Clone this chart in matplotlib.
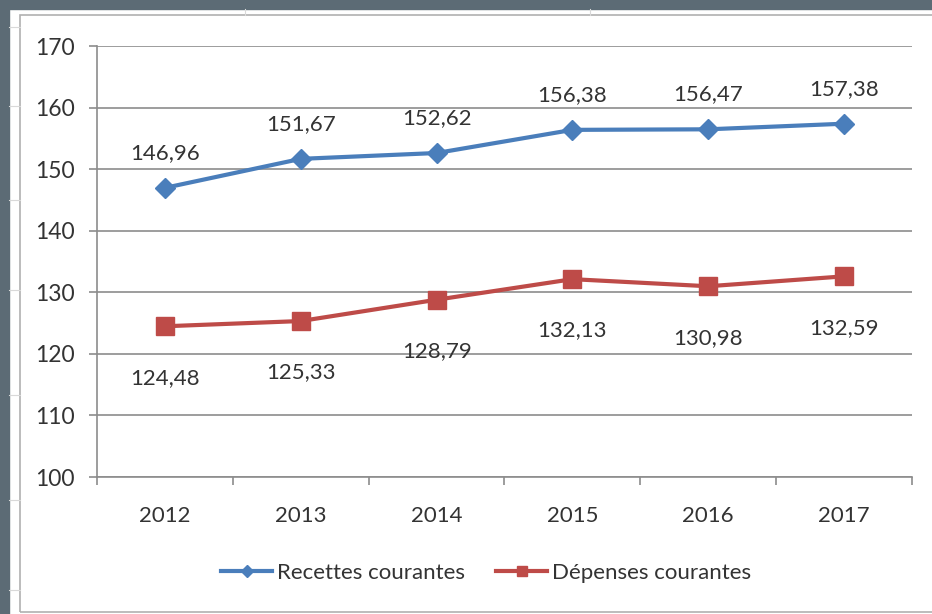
import matplotlib
matplotlib.use("Agg")
import matplotlib.pyplot as plt
from matplotlib.patches import Rectangle
from matplotlib.lines import Line2D
import numpy as np

years = ["2012", "2013", "2014", "2015", "2016", "2017"]
recettes = [146.96, 151.67, 152.62, 156.38, 156.47, 157.38]
depenses = [124.48, 125.33, 128.79, 132.13, 130.98, 132.59]
labels_rec = ["146,96", "151,67", "152,62", "156,38", "156,47", "157,38"]
labels_dep = ["124,48", "125,33", "128,79", "132,13", "130,98", "132,59"]
yticks = [100, 110, 120, 130, 140, 150, 160, 170]

W, H = 932, 614
plt.rcParams['font.family'] = ['Lato', 'DejaVu Sans']
fig = plt.figure(figsize=(W / 100, H / 100), dpi=100)
fig.patch.set_facecolor("white")

def fx(px):
    return px / W

def fy(py):
    return 1 - py / H

# outer dark frame
dark = "#5c6b75"
fig.add_artist(Rectangle((0, 0), fx(9), 1, transform=fig.transFigure, color=dark, zorder=0))
fig.add_artist(Rectangle((0, fy(9)), 1, 9 / H, transform=fig.transFigure, color=dark, zorder=0))
# faint spreadsheet lines
for x in [245, 590]:
    fig.add_artist(Line2D([fx(x), fx(x)], [fy(9), fy(15)], transform=fig.transFigure, color="#d9d9d9", lw=0.8))
for y in [27, 106, 200, 290, 395, 500, 590]:
    fig.add_artist(Line2D([fx(9), fx(20)], [fy(y), fy(y)], transform=fig.transFigure, color="#d9d9d9", lw=0.8))
# chart border
fig.add_artist(Rectangle((fx(20), fy(612)), fx(940 - 20), (612 - 15) / H, transform=fig.transFigure,
                         fill=False, edgecolor="#b0b0b0", lw=1.2, zorder=1))

ax = fig.add_axes([fx(97), fy(477), fx(912 - 97), (477 - 46) / H])
x = np.arange(len(years))
blue = "#4a7ebb"
red = "#be4b48"
ax.plot(x, recettes, color=blue, lw=3, marker="D", ms=10, zorder=3, label="Recettes courantes")
ax.plot(x, depenses, color=red, lw=3, marker="s", ms=13, zorder=3, label="Dépenses courantes")

txtcol = "#333333"
for xi, v, lab in zip(x, recettes, labels_rec):
    ax.annotate(lab, (xi, v), xytext=(0, 25), textcoords="offset points", ha="center", va="center",
                fontsize=16, color=txtcol)
for xi, v, lab in zip(x, depenses, labels_dep):
    ax.annotate(lab, (xi, v), xytext=(0, -37), textcoords="offset points", ha="center", va="center",
                fontsize=16, color=txtcol)

ax.set_xlim(-0.5, len(years) - 0.5)
ax.set_ylim(100, 170)
ax.set_yticks(yticks)
ax.set_yticklabels([str(t) for t in yticks])
ax.grid(axis="y", color="#8c8c8c", lw=1.2)
ax.set_axisbelow(True)
ax.set_xticks(x)
ax.set_xticklabels(years)
ax.set_xticks(np.arange(-0.5, len(years)), minor=True)
ax.tick_params(axis="x", which="major", length=0, pad=21, labelsize=16, labelcolor=txtcol)
ax.tick_params(axis="x", which="minor", length=6, width=1.2, color="#8c8c8c")
ax.tick_params(axis="y", length=6, width=1.2, color="#8c8c8c", pad=10, labelsize=16.5, labelcolor=txtcol)
for s in ["top", "right"]:
    ax.spines[s].set_visible(False)
for s in ["left", "bottom"]:
    ax.spines[s].set_color("#8c8c8c")
    ax.spines[s].set_linewidth(1.2)

fig.legend(loc="center", bbox_to_anchor=(fx(486), fy(573)), ncol=2, frameon=False, fontsize=16,
           handlelength=2.3, handletextpad=0.2, columnspacing=1.4, labelcolor=txtcol,
           markerscale=0.6)

fig.savefig("out.png", dpi=100)
